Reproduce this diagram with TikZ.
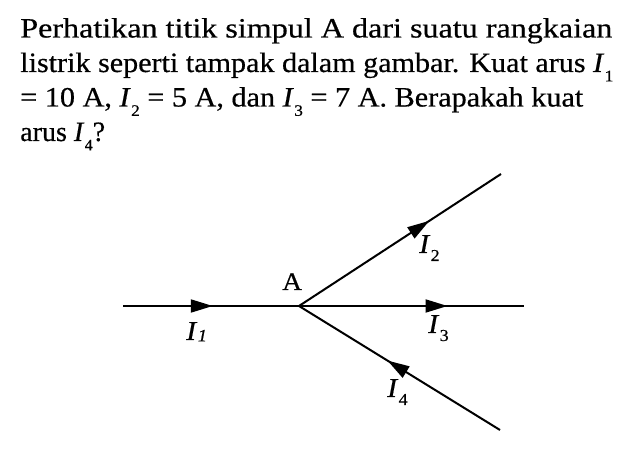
\documentclass[tikz,border=0pt]{standalone}
\usepackage{fontspec}
\setmainfont{Liberation Serif}[FakeBold=0.5]
\usetikzlibrary{arrows.meta,decorations.markings}
\newcommand\Isb[1]{\textit{I}\kern0.3pt\raisebox{-7pt}{\fontsize{12}{12}\selectfont #1}}
\newcommand\Isbi[1]{\textit{I}\kern0.3pt\raisebox{-6pt}{\fontsize{12.5}{12.5}\selectfont #1}}
\newcommand\fitline[2]{\resizebox{#1}{\height}{#2}}
\tikzset{
  txt/.style={anchor=base west,inner sep=0pt,font=\fontsize{21}{24}\selectfont},
  lbl/.style={anchor=base west,inner sep=0pt,font=\fontsize{20.5}{24}\selectfont},
  wire/.style={line width=1.5pt},
  midarrow/.style={decoration={markings,mark=at position #1 with {\arrow{Triangle[length=16.5pt,width=9.75pt]}}},postaction=decorate}
}
\begin{document}
\begin{tikzpicture}[x=0.75pt,y=-0.75pt]
\useasboundingbox (0,0) rectangle (640,449);
\node[txt] (l1) at (20,37.5) {\fitline{444pt}{Perhatikan titik simpul A dari suatu rangkaian}};
\node[txt] (l2) at (20,72) {\fitline{444.75pt}{listrik seperti tampak dalam gambar. Kuat arus \Isb{1}}};
\node[txt] (l3) at (20,106.5) {\fitline{422.25pt}{= 10 A, \Isb{2} = 5 A, dan \Isb{3} = 7 A. Berapakah kuat}};
\node[txt] (l4) at (20,141) {arus \Isb{4}?};
% diagram
\coordinate (L) at (123,306);
\coordinate (A) at (299,306);
\coordinate (R) at (524,306);
\coordinate (U) at (501,174);
\coordinate (D) at (500,430);
\draw[wire,midarrow=0.51] (L) -- (A);
\draw[wire,midarrow=0.66] (A) -- (R);
\draw[wire,midarrow=0.645] (A) -- (U);
\draw[wire,midarrow=0.56] (D) -- (A);
\node[anchor=base west,inner sep=0pt,font=\fontsize{19}{20}\selectfont] (la) at (282,290) {\scalebox{1.08}[1]{A}};
\node[lbl] (i1) at (186,340) {\scalebox{1.08}[1]{\textit{I}\kern0.3pt\raisebox{-1pt}{\fontsize{13}{13}\selectfont\itshape 1}}};
\node[lbl] (i2) at (419,253) {\scalebox{1.08}[1]{\Isbi{2}}};
\node[lbl] (i3) at (428,333) {\scalebox{1.08}[1]{\Isbi{3}}};
\node[lbl] (i4) at (387,397) {\scalebox{1.08}[1]{\Isbi{4}}};
\end{tikzpicture}
\end{document}
